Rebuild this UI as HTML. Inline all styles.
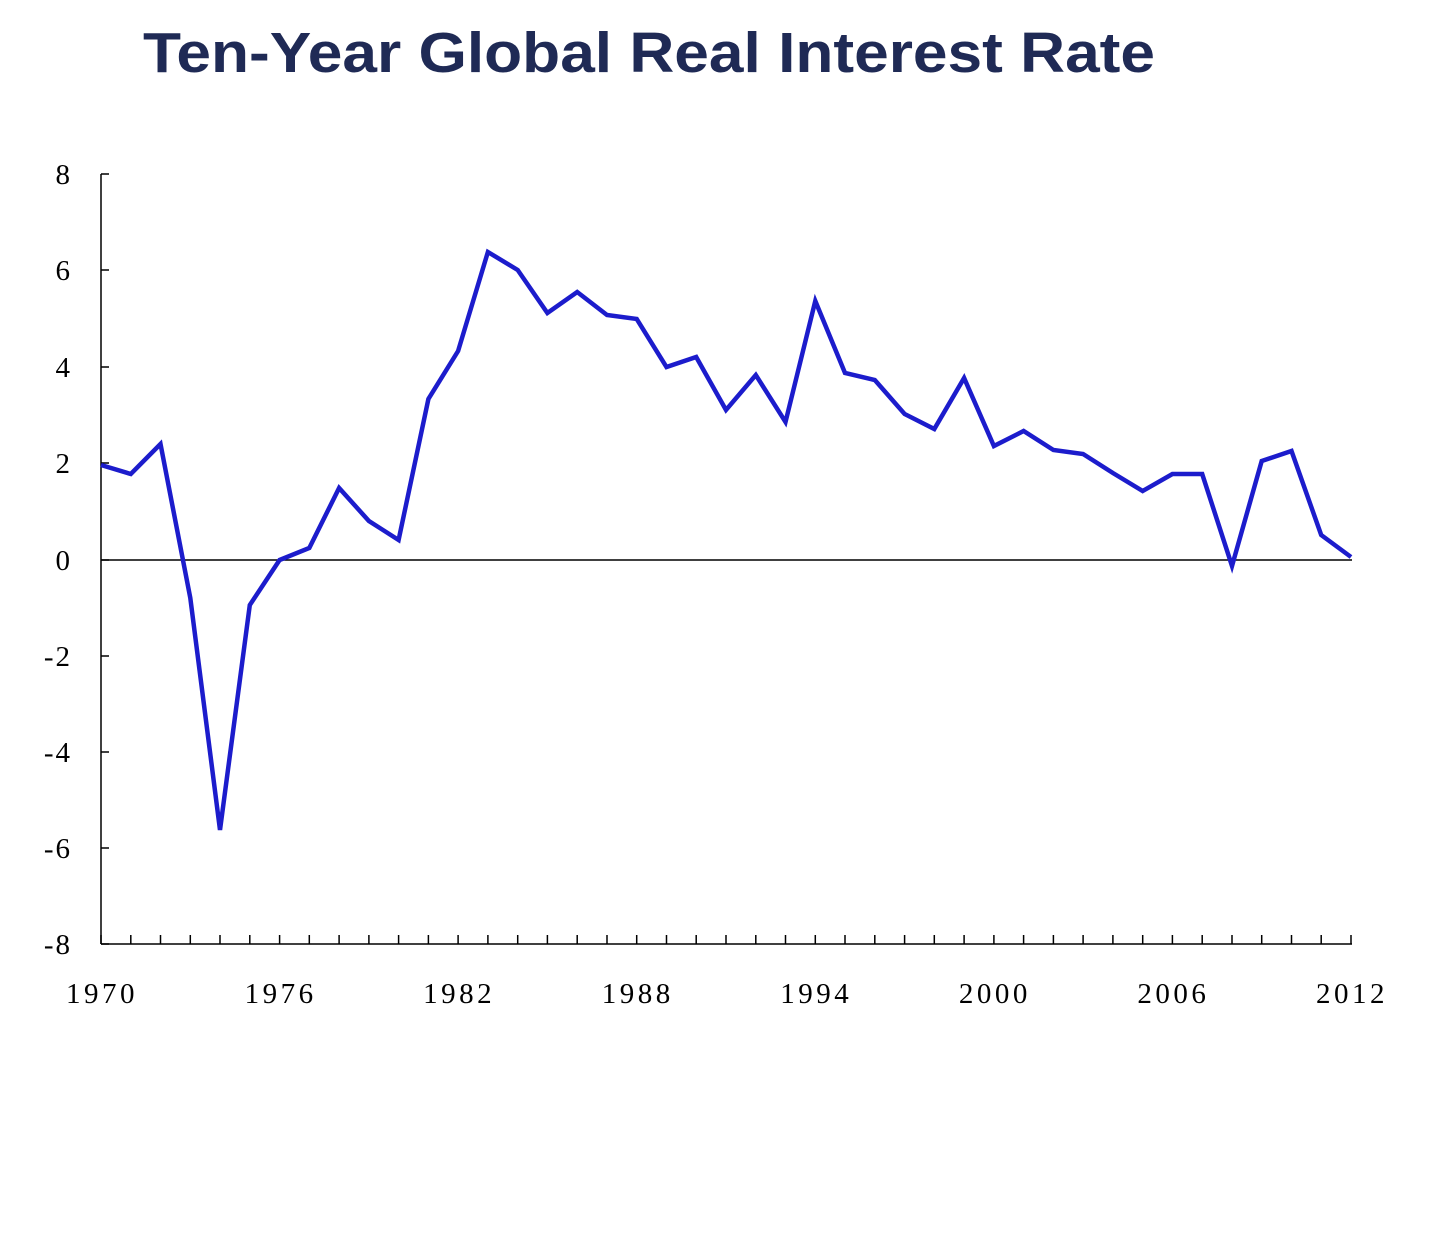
<!DOCTYPE html>
<html><head><meta charset="utf-8"><style>
html,body{margin:0;padding:0;background:#fff;}
</style></head><body>
<svg width="1454" height="1248" viewBox="0 0 1454 1248" xmlns="http://www.w3.org/2000/svg">
<rect width="1454" height="1248" fill="#fff"/>
<text x="649" y="72" text-anchor="middle" font-family="Liberation Sans, sans-serif" font-weight="bold" font-size="57" fill="#1f2a55" textLength="1012" lengthAdjust="spacingAndGlyphs">Ten-Year Global Real Interest Rate</text>
<g stroke="#000" stroke-width="1.5" fill="none">
<line x1="101" y1="174" x2="101" y2="944"/>
<line x1="101" y1="944" x2="1352" y2="944"/>
<line x1="101" y1="560" x2="1352" y2="560"/>
<path d="M101 174h8M101 270h8M101 367h8M101 463h8M101 560h8M101 656h8M101 752h8M101 848h8M101 944h8"/>
<path d="M101 944v-9M130.8 944v-9M160.5 944v-9M190.3 944v-9M220 944v-9M249.8 944v-9M279.6 944v-9M309.3 944v-9M339.1 944v-9M368.9 944v-9M398.6 944v-9M428.4 944v-9M458.1 944v-9M487.9 944v-9M517.7 944v-9M547.4 944v-9M577.2 944v-9M607 944v-9M636.7 944v-9M666.5 944v-9M696.2 944v-9M726 944v-9M755.8 944v-9M785.5 944v-9M815.3 944v-9M845 944v-9M874.8 944v-9M904.6 944v-9M934.3 944v-9M964.1 944v-9M993.9 944v-9M1023.6 944v-9M1053.4 944v-9M1083.1 944v-9M1112.9 944v-9M1142.7 944v-9M1172.4 944v-9M1202.2 944v-9M1232 944v-9M1261.7 944v-9M1291.5 944v-9M1321.2 944v-9M1351 944v-9"/>
</g>
<g font-family="Liberation Serif, serif" font-size="29" fill="#000" text-anchor="end" letter-spacing="2">
<text x="72" y="184">8</text><text x="72" y="280">6</text><text x="72" y="377">4</text><text x="72" y="473">2</text><text x="72" y="570">0</text><text x="72" y="666">-2</text><text x="72" y="762">-4</text><text x="72" y="858">-6</text><text x="72" y="954">-8</text>
</g>
<g font-family="Liberation Serif, serif" font-size="29" fill="#000" text-anchor="middle" letter-spacing="3.5">
<text x="102" y="1003">1970</text><text x="280.6" y="1003">1976</text><text x="459.1" y="1003">1982</text><text x="637.7" y="1003">1988</text><text x="816.3" y="1003">1994</text><text x="994.9" y="1003">2000</text><text x="1173.4" y="1003">2006</text><text x="1352" y="1003">2012</text>
</g>
<polyline fill="none" stroke="#1c1ccc" stroke-width="4.5" stroke-linejoin="miter" points="101,465 130.8,474 160.5,444 190.3,598 220,830 249.8,605 279.6,560 309.3,548 339.1,488 368.9,521 398.6,540 428.4,399 458.1,351 487.9,252 517.7,270 547.4,313 577.2,292 607,315 636.7,319 666.5,367 696.2,357 726,410 755.8,375 785.5,422 815.3,301 845,373 874.8,380 904.6,414 934.3,429 964.1,378 993.9,446 1023.6,431 1053.4,450 1083.1,454 1112.9,473 1142.7,491 1172.4,474 1202.2,474 1232,566 1261.7,461 1291.5,451 1321.2,535 1351,557"/>
</svg>
</body></html>
